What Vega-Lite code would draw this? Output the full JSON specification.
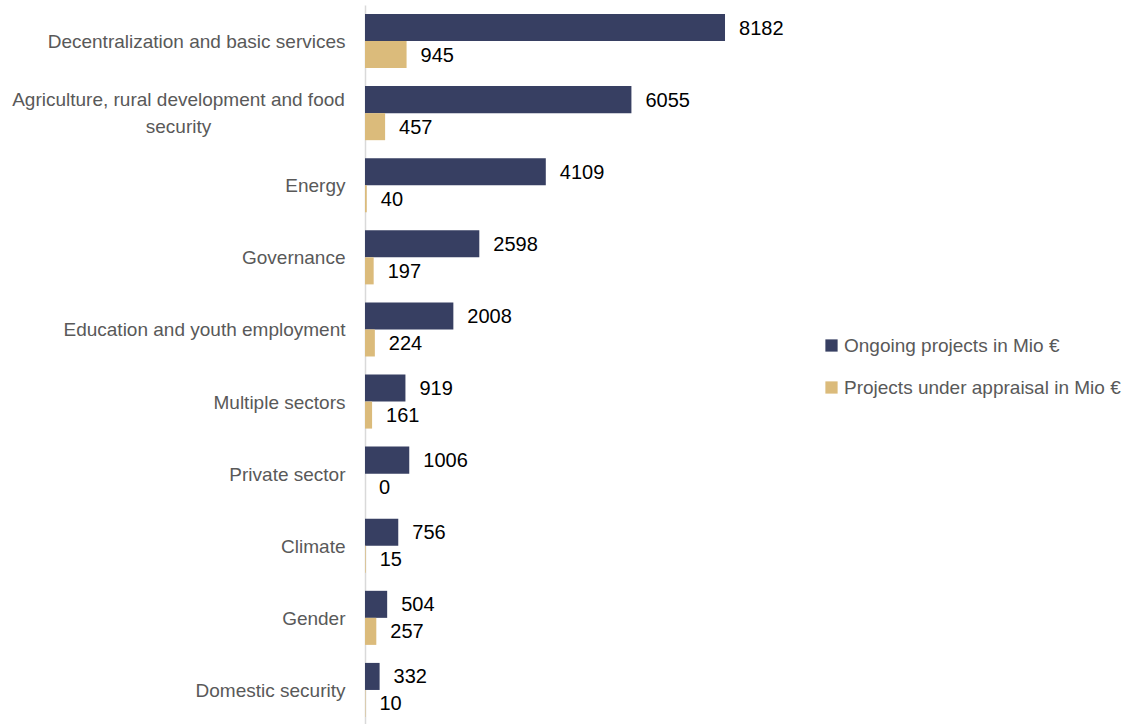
{
  "$schema": "https://vega.github.io/schema/vega-lite/v6.json",
  "width": 440,
  "height": 721,
  "autosize": {"type": "none"},
  "padding": {"left": 365, "top": 5, "right": 331, "bottom": 0},
  "background": "white",
  "config": {"view": {"stroke": null}, "font": "Liberation Sans"},
  "data": {
    "values": [
      {"sector": "Decentralization and basic services", "series": "Ongoing projects in Mio €", "value": 8182},
      {"sector": "Decentralization and basic services", "series": "Projects under appraisal in Mio €", "value": 945},
      {"sector": "Agriculture, rural development and food security", "series": "Ongoing projects in Mio €", "value": 6055},
      {"sector": "Agriculture, rural development and food security", "series": "Projects under appraisal in Mio €", "value": 457},
      {"sector": "Energy", "series": "Ongoing projects in Mio €", "value": 4109},
      {"sector": "Energy", "series": "Projects under appraisal in Mio €", "value": 40},
      {"sector": "Governance", "series": "Ongoing projects in Mio €", "value": 2598},
      {"sector": "Governance", "series": "Projects under appraisal in Mio €", "value": 197},
      {"sector": "Education and youth employment", "series": "Ongoing projects in Mio €", "value": 2008},
      {"sector": "Education and youth employment", "series": "Projects under appraisal in Mio €", "value": 224},
      {"sector": "Multiple sectors", "series": "Ongoing projects in Mio €", "value": 919},
      {"sector": "Multiple sectors", "series": "Projects under appraisal in Mio €", "value": 161},
      {"sector": "Private sector", "series": "Ongoing projects in Mio €", "value": 1006},
      {"sector": "Private sector", "series": "Projects under appraisal in Mio €", "value": 0},
      {"sector": "Climate", "series": "Ongoing projects in Mio €", "value": 756},
      {"sector": "Climate", "series": "Projects under appraisal in Mio €", "value": 15},
      {"sector": "Gender", "series": "Ongoing projects in Mio €", "value": 504},
      {"sector": "Gender", "series": "Projects under appraisal in Mio €", "value": 257},
      {"sector": "Domestic security", "series": "Ongoing projects in Mio €", "value": 332},
      {"sector": "Domestic security", "series": "Projects under appraisal in Mio €", "value": 10}
    ]
  },
  "encoding": {
    "y": {
      "field": "sector",
      "type": "nominal",
      "sort": null,
      "scale": {"paddingInner": 0.25, "paddingOuter": 0.125},
      "axis": {
        "title": null,
        "ticks": false,
        "domain": true,
        "domainColor": "#d9d9d9",
        "domainWidth": 1.5,
        "labelFont": "Liberation Sans",
        "labelFontSize": 19,
        "labelColor": "#595959",
        "labelPadding": {"condition": {"test": "datum.value == 'Agriculture, rural development and food security'", "value": 187}, "value": 20},
        "labelAlign": {"condition": {"test": "datum.value == 'Agriculture, rural development and food security'", "value": "center"}, "value": "right"},
        "labelOffset": {"condition": {"test": "datum.value == 'Agriculture, rural development and food security'", "value": -13}, "value": 1},
        "labelLimit": 400,
        "labelLineHeight": 27,
        "labelExpr": "datum.label == 'Agriculture, rural development and food security' ? ['Agriculture, rural development and food', 'security'] : datum.label"
      }
    },
    "yOffset": {"field": "series", "type": "nominal", "scale": {"paddingInner": 0, "paddingOuter": 0}},
    "x": {"field": "value", "type": "quantitative", "scale": {"domain": [0, 10000]}, "axis": null}
  },
  "layer": [
    {
      "mark": {"type": "bar"},
      "encoding": {
        "color": {
          "field": "series",
          "type": "nominal",
          "scale": {"domain": ["Ongoing projects in Mio €", "Projects under appraisal in Mio €"], "range": ["#373f62", "#dbbb7b"]},
          "legend": {
            "title": null,
            "orient": "none",
            "legendX": 457,
            "legendY": 331,
            "padding": 0,
            "symbolType": "square",
            "symbolSize": 150,
            "symbolStrokeWidth": 0,
            "labelFont": "Liberation Sans",
            "labelFontSize": 19,
            "labelColor": "#595959",
            "labelOffset": 3,
            "rowPadding": 22,
            "labelLimit": 400
          }
        }
      }
    },
    {
      "mark": {"type": "text", "align": "left", "baseline": "middle", "dx": 14, "dy": 1, "fontSize": 20, "color": "#000000", "font": "Liberation Sans"},
      "encoding": {"text": {"field": "value", "type": "quantitative"}}
    }
  ]
}
